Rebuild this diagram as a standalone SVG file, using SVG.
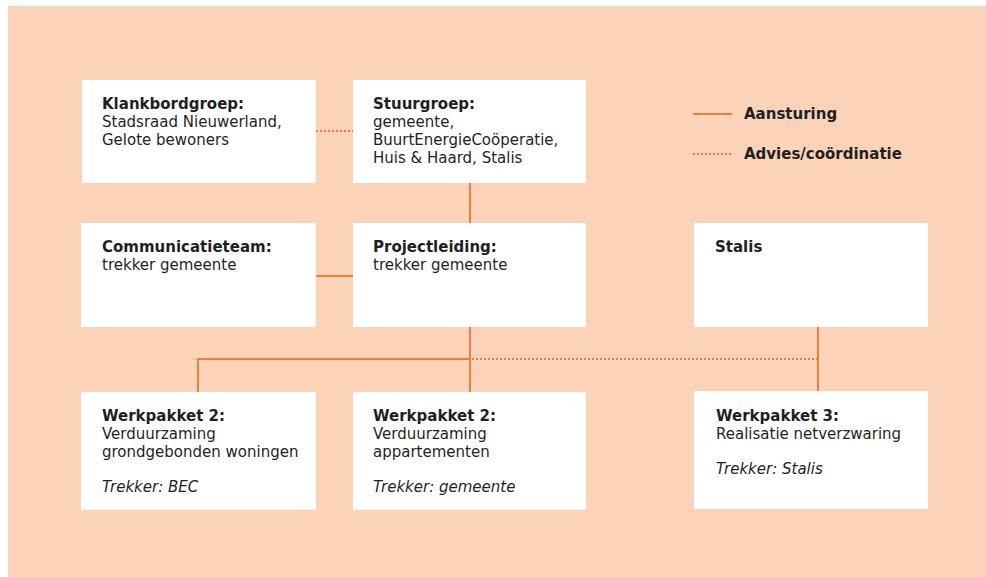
<svg xmlns="http://www.w3.org/2000/svg" width="986" height="577" viewBox="0 0 986 577">
  <defs>
    <style>
      .box { fill: #ffffff; }
      .t { font-family: "DejaVu Sans", "Liberation Sans", sans-serif; font-size: 15px; fill: #1f1f1f; }
      .b { font-weight: bold; }
      .i { font-style: italic; }
      .solid { stroke: #e8803c; stroke-width: 2; fill: none; }
      .dot { stroke: #e8803c; stroke-width: 2; fill: none; stroke-dasharray: 2 2; }
    </style>
  </defs>
  <rect x="0" y="0" width="986" height="577" fill="#ffffff"/>
  <rect x="8" y="6" width="978" height="571" fill="#fad3b8"/>

  <g id="connectors">
    <line class="dot" x1="316" y1="131" x2="353" y2="131"/>
    <line class="solid" x1="470" y1="183" x2="470" y2="223"/>
    <line class="solid" x1="316" y1="276" x2="353" y2="276"/>
    <line class="solid" x1="470" y1="327" x2="470" y2="392"/>
    <polyline class="solid" points="198,392 198,359 470,359"/>
    <line class="dot" x1="472" y1="359" x2="817" y2="359"/>
    <line class="solid" x1="818" y1="327" x2="818" y2="392"/>
  </g>

  <g id="klankbordgroep">
    <rect class="box" x="82" y="80" width="234" height="103"/>
    <text class="t b" x="102" y="109">Klankbordgroep:</text>
    <text class="t" x="102" y="127">Stadsraad Nieuwerland,</text>
    <text class="t" x="102" y="145">Gelote bewoners</text>
  </g>

  <g id="stuurgroep">
    <rect class="box" x="353" y="80" width="233" height="103"/>
    <text class="t b" x="373" y="109">Stuurgroep:</text>
    <text class="t" x="373" y="127">gemeente,</text>
    <text class="t" x="373" y="145">BuurtEnergieCoöperatie,</text>
    <text class="t" x="373" y="163">Huis &amp; Haard, Stalis</text>
  </g>

  <g id="communicatieteam">
    <rect class="box" x="81" y="223" width="235" height="104"/>
    <text class="t b" x="102" y="252">Communicatieteam:</text>
    <text class="t" x="102" y="270">trekker gemeente</text>
  </g>

  <g id="projectleiding">
    <rect class="box" x="353" y="223" width="233" height="104"/>
    <text class="t b" x="373" y="252">Projectleiding:</text>
    <text class="t" x="373" y="270">trekker gemeente</text>
  </g>

  <g id="stalis">
    <rect class="box" x="694" y="223" width="234" height="104"/>
    <text class="t b" x="715" y="252">Stalis</text>
  </g>

  <g id="werkpakket2a">
    <rect class="box" x="81" y="392" width="235" height="118"/>
    <text class="t b" x="102" y="421">Werkpakket 2:</text>
    <text class="t" x="102" y="439">Verduurzaming</text>
    <text class="t" x="102" y="457">grondgebonden woningen</text>
    <text class="t i" x="102" y="492">Trekker: BEC</text>
  </g>

  <g id="werkpakket2b">
    <rect class="box" x="353" y="392" width="233" height="118"/>
    <text class="t b" x="373" y="421">Werkpakket 2:</text>
    <text class="t" x="373" y="439">Verduurzaming</text>
    <text class="t" x="373" y="457">appartementen</text>
    <text class="t i" x="373" y="492">Trekker: gemeente</text>
  </g>

  <g id="werkpakket3">
    <rect class="box" x="694" y="391" width="234" height="118"/>
    <text class="t b" x="716" y="421">Werkpakket 3:</text>
    <text class="t" x="716" y="439">Realisatie netverzwaring</text>
    <text class="t i" x="716" y="474">Trekker: Stalis</text>
  </g>

  <g id="legend">
    <line class="solid" x1="693" y1="114" x2="732" y2="114"/>
    <text class="t b" x="744" y="119">Aansturing</text>
    <line class="dot" x1="693" y1="154" x2="731" y2="154"/>
    <text class="t b" x="744" y="159">Advies/coördinatie</text>
  </g>
</svg>
